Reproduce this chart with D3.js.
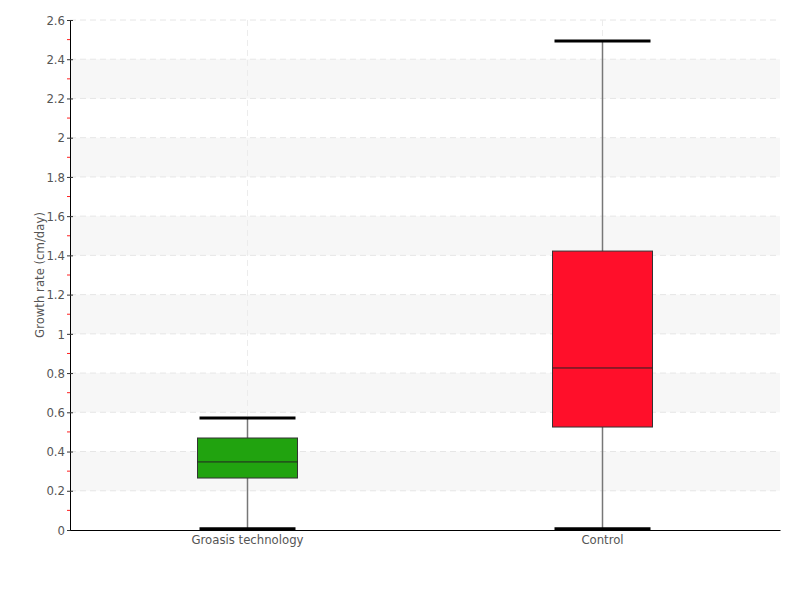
<!DOCTYPE html>
<html><head><meta charset="utf-8">
<script src="https://cdn.jsdelivr.net/npm/d3@7"></script>
<style>
body{margin:0;background:#fff;}
text{font-family:"DejaVu Sans Condensed","DejaVu Sans",sans-serif;font-stretch:condensed;fill:#555;}
</style></head>
<body><svg id="c" width="800" height="600"></svg>
<script>
const categories = ["Groasis technology", "Control"];
const whiskerLow = [0.007, 0.007];
const q1 = [0.265, 0.525];
const median = [0.347, 0.826];
const q3 = [0.469, 1.422];
const whiskerHigh = [0.571, 2.493];
const colors = ["#21a30f", "#ff0f2a"];
const yTicks = [0,0.2,0.4,0.6,0.8,1,1.2,1.4,1.6,1.8,2,2.2,2.4,2.6];
const yLabel = "Growth rate (cm/day)";

const svg = d3.select("#c");
const m = {l:70, r:20, t:20, b:70};
const W = 800, H = 600;
const x = d3.scaleBand().domain(categories).range([m.l, W-m.r]).padding(0);
const y = d3.scaleLinear().domain([0, 2.6]).range([H-m.b, m.t]);

// bands
const bands = [];
for (let i = 1; i < yTicks.length-1; i += 2) bands.push([yTicks[i], yTicks[i+1]]);
svg.append("g").selectAll("rect").data(bands).join("rect")
  .attr("x", m.l).attr("width", W-m.r-m.l)
  .attr("y", d=>y(d[1])).attr("height", d=>y(d[0])-y(d[1]))
  .attr("fill", "#f7f7f7");

// grid
svg.append("g").selectAll("line").data(yTicks.slice(1)).join("line")
  .attr("x1", m.l).attr("x2", W-m.r).attr("y1", d=>y(d)).attr("y2", d=>y(d))
  .attr("stroke", "#e6e6e6").attr("stroke-dasharray", "6,4");
svg.append("g").selectAll("line").data(categories).join("line")
  .attr("x1", d=>x(d)+x.bandwidth()/2).attr("x2", d=>x(d)+x.bandwidth()/2)
  .attr("y1", m.t).attr("y2", H-m.b)
  .attr("stroke", "#ececec").attr("stroke-dasharray", "6,4");

// minor ticks
const minor = d3.range(0.1, 2.6, 0.2);
svg.append("g").selectAll("line").data(minor).join("line")
  .attr("x1", m.l-3).attr("x2", m.l).attr("y1", d=>y(d)).attr("y2", d=>y(d))
  .attr("stroke", "#ff2020");

// y axis
const ya = svg.append("g").attr("transform", `translate(${m.l},0)`)
  .call(d3.axisLeft(y).tickValues(yTicks).tickFormat(d=>String(+d.toFixed(1))).tickSize(3).tickPadding(2));
ya.select(".domain").attr("stroke", "#000");
ya.selectAll(".tick line").attr("stroke", "#333").attr("x2", 3).attr("x1", -3);
ya.selectAll("text").attr("font-size", 13).attr("fill", "#555")
  .attr("font-family", "DejaVu Sans Condensed, DejaVu Sans, sans-serif");

// x axis
const xa = svg.append("g").attr("transform", `translate(0,${H-m.b})`)
  .call(d3.axisBottom(x).tickSize(0).tickPadding(5));
xa.select(".domain").attr("stroke", "#000");
xa.selectAll("text").attr("font-size", 13).attr("fill", "#555")
  .attr("font-family", "DejaVu Sans Condensed, DejaVu Sans, sans-serif");

// y label
svg.append("text").attr("transform", `translate(44,${(m.t+H-m.b)/2}) rotate(-90)`)
  .attr("text-anchor","middle").attr("font-size", 13).text(yLabel);

// boxes
const bw = 100, cw = 96;
const g = svg.append("g").selectAll("g").data(categories).join("g")
  .attr("transform", d=>`translate(${x(d)+x.bandwidth()/2},0)`);
g.append("line").attr("y1", (d,i)=>y(whiskerLow[i])).attr("y2", (d,i)=>y(whiskerHigh[i]))
  .attr("stroke", "#777").attr("stroke-width", 1.5);
g.append("rect").attr("x", -bw/2).attr("width", bw)
  .attr("y", (d,i)=>y(q3[i])).attr("height", (d,i)=>y(q1[i])-y(q3[i]))
  .attr("fill", (d,i)=>colors[i]).attr("stroke", "#333").attr("stroke-width", 1);
g.append("line").attr("x1", -bw/2).attr("x2", bw/2)
  .attr("y1", (d,i)=>y(median[i])).attr("y2", (d,i)=>y(median[i]))
  .attr("stroke", "#222").attr("stroke-width", 1);
["low","high"].forEach(k=>{
  g.append("line").attr("x1", -cw/2).attr("x2", cw/2)
    .attr("y1", (d,i)=>y(k==="low"?whiskerLow[i]:whiskerHigh[i]))
    .attr("y2", (d,i)=>y(k==="low"?whiskerLow[i]:whiskerHigh[i]))
    .attr("stroke", "#000").attr("stroke-width", 3);
});
</script></body></html>
